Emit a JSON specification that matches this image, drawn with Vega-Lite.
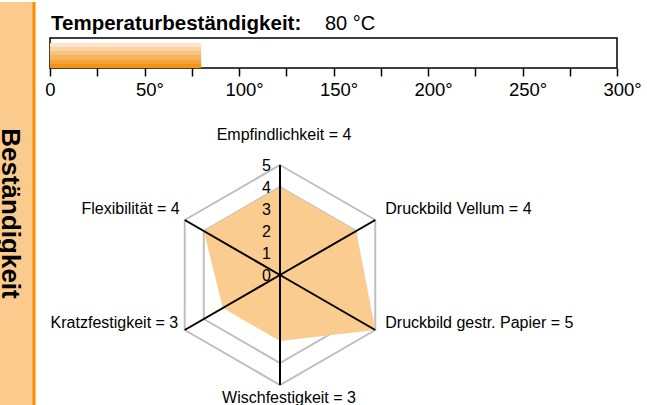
{
  "$schema": "https://vega.github.io/schema/vega-lite/v6.json",
  "padding": 0,
  "background": "white",
  "config": {
    "view": {"stroke": null},
    "font": "Liberation Sans",
    "text": {"color": "black"},
    "axis": {"labelFont": "Liberation Sans"}
  },
  "datasets": {
    "axes": [
      {"axis": "Empfindlichkeit", "value": 4, "order": 0},
      {"axis": "Druckbild Vellum", "value": 4, "order": 1},
      {"axis": "Druckbild gestr. Papier", "value": 5, "order": 2},
      {"axis": "Wischfestigkeit", "value": 3, "order": 3},
      {"axis": "Kratzfestigkeit", "value": 3, "order": 4},
      {"axis": "Flexibilität", "value": 4, "order": 5}
    ],
    "rings": [
      {"level": 4, "order": 0}, {"level": 4, "order": 1}, {"level": 4, "order": 2},
      {"level": 4, "order": 3}, {"level": 4, "order": 4}, {"level": 4, "order": 5},
      {"level": 5, "order": 0}, {"level": 5, "order": 1}, {"level": 5, "order": 2},
      {"level": 5, "order": 3}, {"level": 5, "order": 4}, {"level": 5, "order": 5}
    ],
    "ticks": [
      {"level": 0, "order": 0}, {"level": 1, "order": 0}, {"level": 2, "order": 0},
      {"level": 3, "order": 0}, {"level": 4, "order": 0}, {"level": 5, "order": 0}
    ]
  },
  "hconcat": [
    {
      "width": 34,
      "height": 405,
      "view": {"fill": "#FBCB8E", "stroke": null},
      "data": {"values": [{"label": "Beständigkeit"}]},
      "layer": [
        {
          "mark": {"type": "rule", "color": "#FF8C00", "strokeWidth": 3},
          "encoding": {"x": {"value": "width"}}
        },
        {
          "mark": {"type": "text", "angle": 90, "fontSize": 26, "fontWeight": "bold", "align": "center", "baseline": "alphabetic", "dx": 9, "dy": 15, "clip": true, "color": "black"},
          "encoding": {"text": {"field": "label"}}
        }
      ]
    },
    {
      "vconcat": [
        {
          "width": 567,
          "height": 36,
          "data": {"values": [{"label": "Temperaturbeständigkeit:", "value": "80 °C"}]},
          "encoding": {
            "x": {"datum": 0, "type": "quantitative", "scale": {"domain": [0, 300], "nice": false}, "axis": null},
            "y": {"value": "height"}
          },
          "layer": [
            {
              "mark": {"type": "text", "align": "left", "baseline": "alphabetic", "fontSize": 20.5, "fontWeight": "bold", "dx": 1, "dy": -8},
              "encoding": {"text": {"field": "label"}}
            },
            {
              "mark": {"type": "text", "align": "left", "baseline": "alphabetic", "fontSize": 20, "dx": 275, "dy": -8},
              "encoding": {"text": {"field": "value"}}
            }
          ]
        },
        {
          "width": 567,
          "height": 30,
          "view": {"stroke": "black", "strokeWidth": 1.5},
          "data": {"values": [{"label": "Temperaturbeständigkeit", "temp": 80}]},
          "mark": {
            "type": "rect",
            "stroke": null,
            "fill": {
              "gradient": "linear", "x1": 0, "y1": 0, "x2": 0, "y2": 1,
              "stops": [
                {"offset": 0, "color": "#FDE4C9"}, {"offset": 0.1667, "color": "#FDE4C9"},
                {"offset": 0.1667, "color": "#FBD3A5"}, {"offset": 0.3333, "color": "#FBD3A5"},
                {"offset": 0.3333, "color": "#F9C482"}, {"offset": 0.5, "color": "#F9C482"},
                {"offset": 0.5, "color": "#F7B45E"}, {"offset": 0.6667, "color": "#F7B45E"},
                {"offset": 0.6667, "color": "#F5A43A"}, {"offset": 0.8333, "color": "#F5A43A"},
                {"offset": 0.8333, "color": "#F39416"}, {"offset": 1, "color": "#F39416"}
              ]
            }
          },
          "encoding": {
            "x": {
              "field": "temp", "type": "quantitative",
              "scale": {"domain": [0, 300], "nice": false, "zero": true},
              "axis": {
                "values": [0, 25, 50, 75, 100, 125, 150, 175, 200, 225, 250, 275, 300],
                "labelExpr": "datum.value % 50 == 0 ? (datum.value == 0 ? '0' : datum.value + '°') : ''",
                "domain": false, "grid": false, "title": null,
                "tickSize": 8, "tickColor": "black", "tickWidth": 1.5,
                "labelFontSize": 18.5, "labelColor": "black", "labelPadding": 4,
                "labelFlush": false, "labelOverlap": false,
                "labelOffset": {"condition": {"test": "datum.value == 0", "value": 0}, "value": 5}
              }
            },
            "x2": {"datum": 0},
            "y": {"datum": 5, "type": "quantitative", "scale": {"domain": [0, 6], "nice": false}, "axis": null},
            "y2": {"datum": 0}
          }
        },
        {
          "width": 460,
          "height": 339,
          "view": {"stroke": null},
          "encoding": {
            "x": {"field": "px", "type": "quantitative", "scale": {"domain": [-10.4545, 10.4545], "nice": false, "zero": false}, "axis": null},
            "y": {"field": "py", "type": "quantitative", "scale": {"domain": [-6, 9.4091], "nice": false, "zero": false}, "axis": null}
          },
          "layer": [
            {
              "data": {"name": "rings"},
              "transform": [
                {"calculate": "PI/2 - datum.order*PI/3", "as": "a"},
                {"calculate": "datum.level*cos(datum.a)", "as": "px"},
                {"calculate": "datum.level*sin(datum.a)", "as": "py"}
              ],
              "mark": {"type": "line", "interpolate": "linear-closed", "color": "#BFBFBF", "strokeWidth": 2},
              "encoding": {
                "detail": {"field": "level", "type": "nominal"},
                "order": {"field": "order", "type": "quantitative"}
              }
            },
            {
              "data": {"name": "axes"},
              "transform": [
                {"calculate": "PI/2 - datum.order*PI/3", "as": "a"},
                {"calculate": "datum.value*cos(datum.a)", "as": "px"},
                {"calculate": "datum.value*sin(datum.a)", "as": "py"}
              ],
              "mark": {"type": "line", "interpolate": "linear-closed", "filled": true, "color": "#FACC8F", "stroke": "transparent", "strokeWidth": 0},
              "encoding": {"order": {"field": "order", "type": "quantitative"}}
            },
            {
              "data": {"name": "axes"},
              "transform": [
                {"calculate": "PI/2 - datum.order*PI/3", "as": "a"},
                {"calculate": "5*cos(datum.a)", "as": "px"},
                {"calculate": "5*sin(datum.a)", "as": "py"}
              ],
              "mark": {"type": "rule", "color": "black", "strokeWidth": 2},
              "encoding": {"x2": {"datum": 0}, "y2": {"datum": 0}}
            },
            {
              "data": {"name": "ticks"},
              "transform": [
                {"calculate": "PI/2 - datum.order*PI/3", "as": "a"},
                {"calculate": "datum.level*cos(datum.a)", "as": "px"},
                {"calculate": "datum.level*sin(datum.a)", "as": "py"}
              ],
              "mark": {"type": "text", "align": "right", "baseline": "middle", "dx": -9, "dy": 1, "fontSize": 16},
              "encoding": {"text": {"field": "level", "type": "nominal"}}
            },
            {
              "data": {"name": "axes"},
              "transform": [
                {"filter": "datum.order == 0"},
                {"calculate": "PI/2 - datum.order*PI/3", "as": "a"},
                {"calculate": "5*cos(datum.a)", "as": "px"},
                {"calculate": "5*sin(datum.a)", "as": "py"},
                {"calculate": "datum.axis + ' = ' + datum.value", "as": "label"}
              ],
              "mark": {"type": "text", "align": "center", "baseline": "middle", "dx": 4, "dy": -30, "fontSize": 16},
              "encoding": {"text": {"field": "label"}}
            },
            {
              "data": {"name": "axes"},
              "transform": [
                {"filter": "datum.order == 3"},
                {"calculate": "PI/2 - datum.order*PI/3", "as": "a"},
                {"calculate": "5*cos(datum.a)", "as": "px"},
                {"calculate": "5*sin(datum.a)", "as": "py"},
                {"calculate": "datum.axis + ' = ' + datum.value", "as": "label"}
              ],
              "mark": {"type": "text", "align": "center", "baseline": "middle", "dx": 9, "dy": 13, "fontSize": 16},
              "encoding": {"text": {"field": "label"}}
            },
            {
              "data": {"name": "axes"},
              "transform": [
                {"filter": "datum.order == 1"},
                {"calculate": "PI/2 - datum.order*PI/3", "as": "a"},
                {"calculate": "5*cos(datum.a)", "as": "px"},
                {"calculate": "5*sin(datum.a)", "as": "py"},
                {"calculate": "datum.axis + ' = ' + datum.value", "as": "label"}
              ],
              "mark": {"type": "text", "align": "left", "baseline": "middle", "dx": 10, "dy": -11, "fontSize": 16},
              "encoding": {"text": {"field": "label"}}
            },
            {
              "data": {"name": "axes"},
              "transform": [
                {"filter": "datum.order == 2"},
                {"calculate": "PI/2 - datum.order*PI/3", "as": "a"},
                {"calculate": "5*cos(datum.a)", "as": "px"},
                {"calculate": "5*sin(datum.a)", "as": "py"},
                {"calculate": "datum.axis + ' = ' + datum.value", "as": "label"}
              ],
              "mark": {"type": "text", "align": "left", "baseline": "middle", "dx": 10, "dy": -7.5, "fontSize": 16},
              "encoding": {"text": {"field": "label"}}
            },
            {
              "data": {"name": "axes"},
              "transform": [
                {"filter": "datum.order == 5"},
                {"calculate": "PI/2 - datum.order*PI/3", "as": "a"},
                {"calculate": "5*cos(datum.a)", "as": "px"},
                {"calculate": "5*sin(datum.a)", "as": "py"},
                {"calculate": "datum.axis + ' = ' + datum.value", "as": "label"}
              ],
              "mark": {"type": "text", "align": "right", "baseline": "middle", "dx": -5, "dy": -11, "fontSize": 16},
              "encoding": {"text": {"field": "label"}}
            },
            {
              "data": {"name": "axes"},
              "transform": [
                {"filter": "datum.order == 4"},
                {"calculate": "PI/2 - datum.order*PI/3", "as": "a"},
                {"calculate": "5*cos(datum.a)", "as": "px"},
                {"calculate": "5*sin(datum.a)", "as": "py"},
                {"calculate": "datum.axis + ' = ' + datum.value", "as": "label"}
              ],
              "mark": {"type": "text", "align": "right", "baseline": "middle", "dx": -6.5, "dy": -7.5, "fontSize": 16},
              "encoding": {"text": {"field": "label"}}
            }
          ]
        }
      ],
      "spacing": 0,
      "bounds": "flush"
    }
  ],
  "spacing": 16,
  "bounds": "flush"
}
